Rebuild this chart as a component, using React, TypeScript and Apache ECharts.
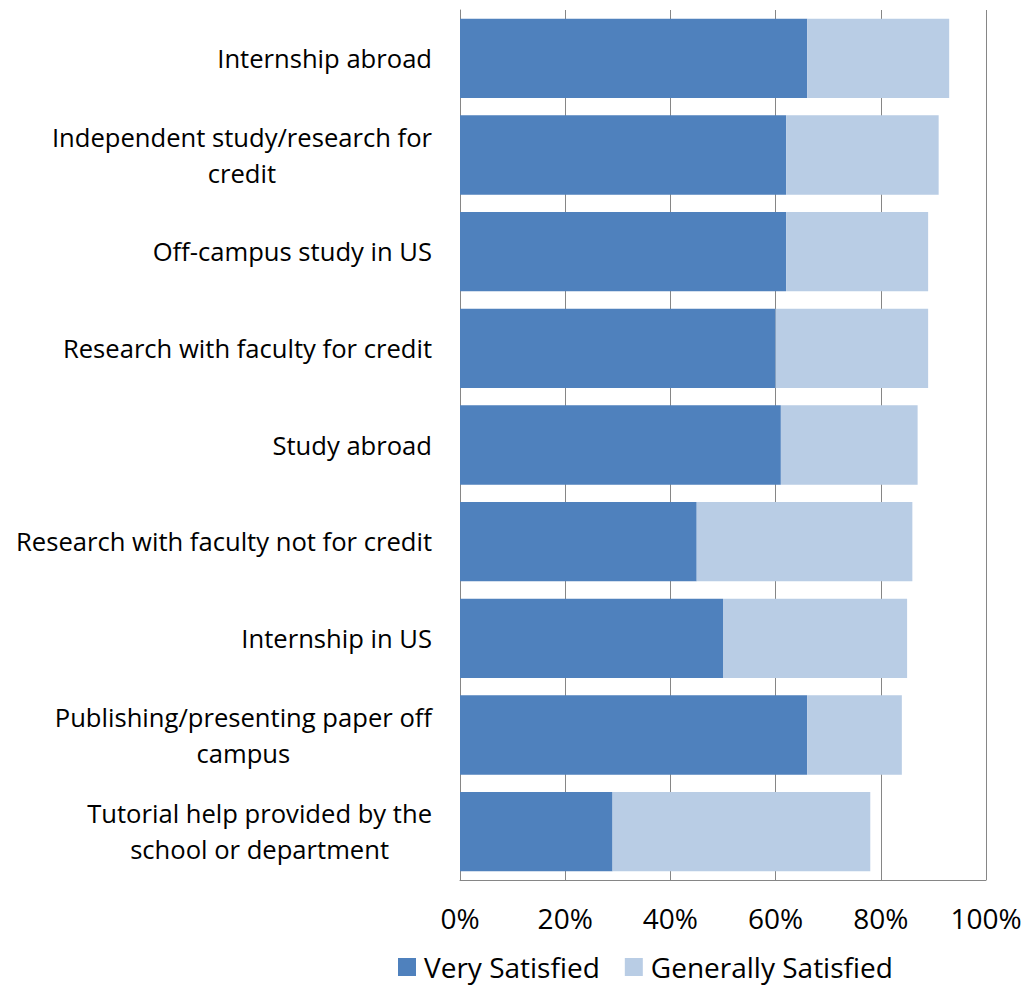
import React, { useEffect, useRef } from "react";
import * as echarts from "echarts";

const categories = [
  "Internship abroad",
  "Independent study/research for\ncredit",
  "Off-campus study in US",
  "Research with faculty for credit",
  "Study abroad",
  "Research with faculty not for credit",
  "Internship in US",
  "Publishing/presenting paper off\ncampus",
  "Tutorial help provided by the\nschool or department",
];
const verySatisfied = [66, 62, 62, 60, 61, 45, 50, 66, 29];
const generallySatisfied = [27, 29, 27, 29, 26, 41, 35, 18, 49];
const xTicks = [0, 20, 40, 60, 80, 100];

const FONT = "'Open Sans', sans-serif";
const FS = 25.6;
const FS_BIG = 28;

export default function App() {
  const ref = useRef<HTMLDivElement>(null);
  useEffect(() => {
    if (!ref.current) return;
    const chart = echarts.init(ref.current, undefined, { renderer: "svg" });
    chart.setOption({
      animation: false,
      backgroundColor: "#ffffff",
      textStyle: { fontFamily: FONT },
      grid: { left: 460, right: 41, top: 10, bottom: 107, containLabel: false },
      legend: {
        bottom: 1,
        left: 393,
        itemWidth: 18,
        itemHeight: 18,
        itemGap: 25,
        icon: "rect",
        textStyle: {
          fontSize: FS_BIG,
          color: "#000",
          fontFamily: FONT,
          padding: [0, 0, 0, 3],
        },
        data: ["Very Satisfied", "Generally Satisfied"],
      },
      xAxis: {
        type: "value",
        min: xTicks[0],
        max: xTicks[xTicks.length - 1],
        interval: 20,
        axisLine: { show: true, lineStyle: { color: "#868686", width: 1 } },
        axisTick: { show: false },
        splitLine: { show: true, lineStyle: { color: "#868686", width: 1 } },
        axisLabel: {
          formatter: "{value}%",
          fontSize: FS_BIG,
          color: "#000",
          fontFamily: FONT,
          margin: 24,
        },
      },
      yAxis: {
        type: "category",
        inverse: true,
        data: categories,
        axisLine: { show: true, lineStyle: { color: "#868686", width: 1 } },
        axisTick: { show: false },
        axisLabel: {
          fontSize: FS,
          color: "#000",
          fontFamily: FONT,
          margin: 28,
          lineHeight: 36,
          formatter: (v: string) =>
            v
              .split("\n")
              .map((l) => "{c|" + l + "}")
              .join("\n"),
          rich: {
            c: {
              align: "center",
              fontSize: FS,
              fontFamily: FONT,
              color: "#000",
              lineHeight: 36,
            },
          },
        },
      },
      series: [
        {
          name: "Very Satisfied",
          type: "bar",
          stack: "total",
          data: verySatisfied,
          barCategoryGap: "18%",
          itemStyle: { color: "#4F81BD" },
        },
        {
          name: "Generally Satisfied",
          type: "bar",
          stack: "total",
          data: generallySatisfied,
          barCategoryGap: "18%",
          itemStyle: { color: "#B9CDE5" },
        },
      ],
    });
    return () => chart.dispose();
  }, []);
  return (
    <div
      ref={ref}
      style={{ position: "fixed", left: 0, top: 0, width: 1027, height: 987 }}
    />
  );
}
